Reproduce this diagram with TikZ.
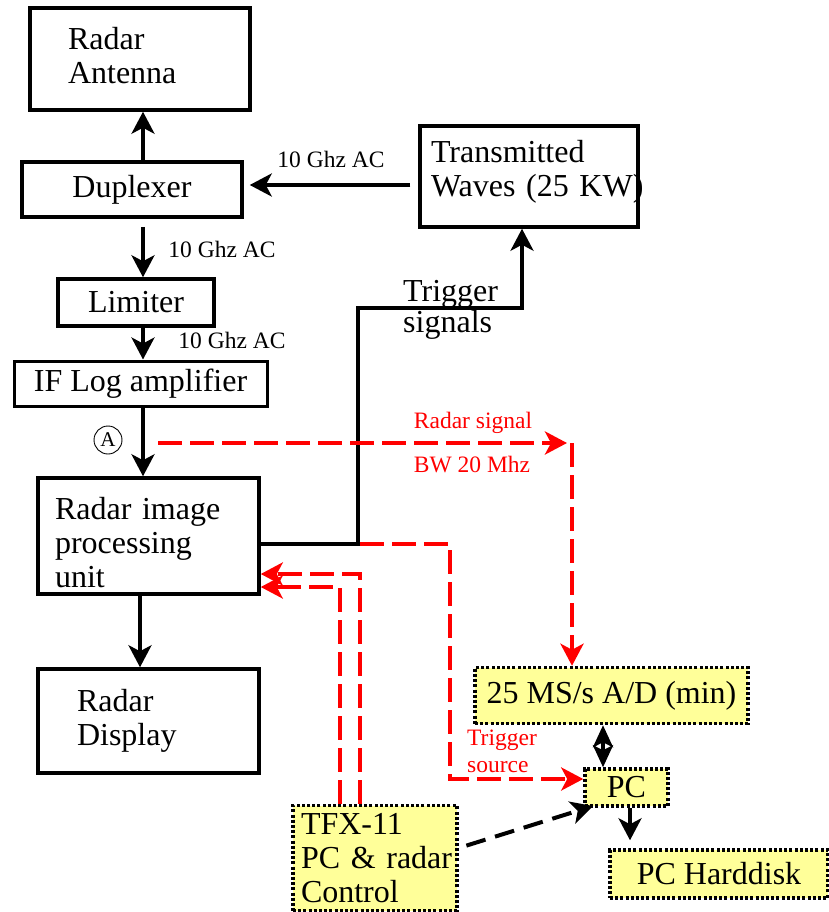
\documentclass[tikz,border=0pt]{standalone}
\usepackage{fontspec}
\setmainfont{Liberation Serif}
\usetikzlibrary{arrows.meta}
\definecolor{padyellow}{RGB}{255,255,153}
\begin{document}
\begin{tikzpicture}[x=1pt,y=-1pt,
  bigfont/.style={font=\fontsize{32}{34}\selectfont},
  smallfont/.style={font=\fontsize{23.5}{27}\selectfont},
  box/.style={draw, line width=3.5pt, rectangle, inner ysep=0pt, bigfont},
  ybox/.style={draw, line width=3.5pt, dash pattern=on 3pt off 2.2pt, fill=padyellow, rectangle, inner ysep=0pt, bigfont},
  tip/.style={-{Stealth[length=22pt,width=23pt,inset=6pt]}},
  arr/.style={line width=3.5pt, tip},
  dblarr/.style={line width=3.5pt, {Stealth[length=22pt,width=20pt,inset=5pt]}-{Stealth[length=22pt,width=20pt,inset=5pt]}},
  redarr/.style={line width=4pt, red, dash pattern=on 24pt off 8pt, tip},
  blkdash/.style={line width=4pt, dash pattern=on 20pt off 10pt, tip},
  lbl/.style={smallfont, inner sep=0pt}
]
\useasboundingbox (0,0) rectangle (829,912);

% boxes
\node[box, minimum width=220pt, minimum height=102pt, text width=144pt, inner xsep=38pt, align=left] (ant) at (140,59) {Radar\\Antenna\rule[-7pt]{0pt}{7pt}};
\node[box, minimum width=220pt, minimum height=55pt] (dup) at (132,189.5) {Duplexer};
\node[box, minimum width=156pt, minimum height=47pt] (lim) at (136,302.5) {Limiter};
\node[box, line width=3pt, minimum width=253pt, minimum height=45pt] (ifl) at (140.5,383.5) {IF Log amplifier};
\node[box, minimum width=218pt, minimum height=101pt, text width=196pt, inner xsep=11pt, align=left] (tw) at (529,176.5) {Transmitted\\\mbox{Waves (25 KW)}\rule[-16pt]{0pt}{16pt}};
\node[box, minimum width=221pt, minimum height=116pt, text width=187pt, inner xsep=17pt, align=left] (ripu) at (148.5,536) {\rule{0pt}{36pt}Radar image\\processing\\unit};
\node[box, minimum width=221pt, minimum height=104pt, text width=143pt, inner xsep=39pt, align=left] (disp) at (148.5,721) {Radar\\Display};
\node[ybox, minimum width=273pt, minimum height=56pt] (ad) at (611.5,695.5) {25 MS/s A/D (min)};
\node[ybox, minimum width=83pt, minimum height=37pt] (pc) at (626.5,787.5) {PC};
\node[ybox, minimum width=218pt, minimum height=48pt] (hd) at (719,874) {PC Harddisk};
\node[ybox, minimum width=164pt, minimum height=105pt, text width=148pt, inner xsep=8pt, align=left] (tfx) at (375,858) {\mbox{TFX-11}\\\mbox{PC \& radar}\\\mbox{Control}};

% helper coordinates
\coordinate (x143) at (143,0);
\coordinate (x140) at (140,0);
\coordinate (y185) at (0,185);
\coordinate (tA) at (358,544);
\coordinate (tB) at (358,308);
\coordinate (tC) at (522,308);
\coordinate (rs0) at (158,443);
\coordinate (rs1) at (572,443);
\coordinate (rs1t) at (567,443);
\coordinate (ts0) at (360,544);
\coordinate (ts1) at (450,544);
\coordinate (ts2) at (450,779);
\coordinate (c1) at (360,574);
\coordinate (c2) at (340,587);
\coordinate (x603) at (603,0);
\coordinate (x630) at (630,0);
\coordinate (d0) at (465,848);
\coordinate (d1) at (593,806);

% black connectors
\draw[arr] (dup.north -| x143) -- (ant.south -| x143);
\draw[arr, shorten <=8pt, shorten >=6pt] (tw.west |- y185) -- (dup.east |- y185);
\draw[arr, shorten <=8pt] (dup.south -| x143) -- (lim.north -| x143);
\draw[arr] (lim.south -| x143) -- (ifl.north -| x143);
\draw[arr] (ifl.south -| x143) -- (ripu.north -| x143);
\draw[arr] (ripu.south -| x140) -- (disp.north -| x140);
\draw[arr] (ripu.east |- tA) -- (tA) -- (tB) -- (tC) -- (tC |- tw.south);
\draw[dblarr] (ad.south -| x603) -- (pc.north -| x603);
\draw[arr, shorten >=8pt] (pc.south -| x630) -- (hd.north -| x630);
\draw[blkdash, shorten <=8pt] (tfx.east |- d0) -- (d1);

% red connectors
\draw[redarr] (rs0) -- (rs1t);
\draw[redarr] (rs1) -- (rs1 |- ad.north);
\draw[redarr] (ts0) -- (ts1) -- (ts2) -- (ts2 -| pc.west);
\draw[redarr] (tfx.north -| c1) -- (c1) -- (c1 -| ripu.east);
\draw[redarr] (tfx.north -| c2) -- (c2) -- (c2 -| ripu.east);

% labels
\node[lbl] (l1) at (331,159) {10 Ghz AC};
\node[lbl] (l2) at (222,249) {10 Ghz AC};
\node[lbl] (l3) at (232,340) {10 Ghz AC};
\node[bigfont, inner sep=0pt, anchor=west, align=left, font=\fontsize{32}{31}\selectfont] (trig) at (403,310) {Trigger\\signals};
\node[lbl, red] (rsig) at (473,423) {Radar signal};
\node[lbl, red] (bw) at (472,465) {BW 20 Mhz};
\node[lbl, red, anchor=west, align=left] (tsrc) at (467,751) {Trigger\\source};
\node[draw, circle, line width=0.9pt, minimum size=28pt, inner sep=0pt, font=\fontsize{21}{21}\selectfont] (ca) at (108,440) {A};
\end{tikzpicture}
\end{document}
